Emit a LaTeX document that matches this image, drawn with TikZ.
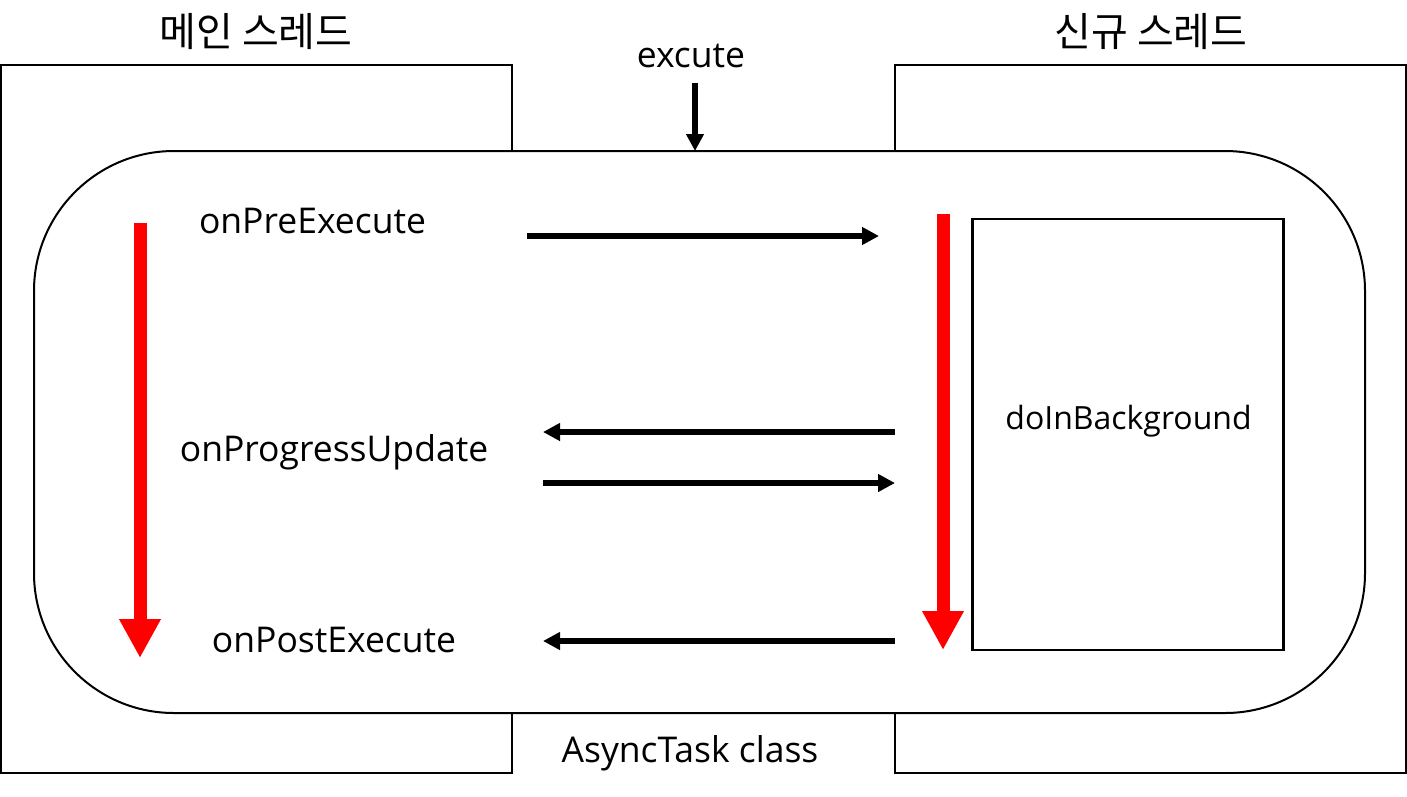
\documentclass[tikz,border=0pt]{standalone}
\usepackage{fontspec}
\setmainfont{Open Sans}
\newfontfamily\kr{Noto Sans CJK KR}
\usetikzlibrary{arrows.meta}
\tikzset{
  thread/.style={draw=black, line width=2pt},
  label/.style={inner sep=0pt, anchor=base, font=\fontsize{35.5}{42}\selectfont},
  krlabel/.style={inner sep=0pt, anchor=base, font=\kr\fontsize{40}{46}\selectfont},
  blk/.style={draw=black, line width=5.5pt, -{Triangle[length=17pt,width=17pt]}},
  redarr/.style={draw=red, line width=13pt, -{Triangle[length=39pt,width=39pt]}}
}
\begin{document}
\begin{tikzpicture}[x=1pt,y=-1pt]
\useasboundingbox (0,0) rectangle (1407,796);
% thread boxes
\draw[thread] (1,65) rectangle (512,773);
\draw[thread] (895,65) rectangle (1406,773);
% AsyncTask rounded rectangle
\node[draw=black, line width=2pt, fill=white, rounded corners=140pt,
      minimum width=1331pt, minimum height=562pt, inner sep=0pt] (task) at (699.5,432) {};
% doInBackground box
\node[draw=black, line width=2.5pt, minimum width=311pt, minimum height=431pt, inner sep=0pt]
      (bg) at (1128,434.5) {};
% labels
\node[krlabel] (main) at (256,46) {메인 스레드};
\node[krlabel] (new) at (1151,46) {신규 스레드};
\node[label] (exec) at (691,67) {excute};
\node[label] (pre) at (312.5,233) {onPreExecute};
\node[label] (prog) at (334,461) {onProgressUpdate};
\node[label] (post) at (334,652) {onPostExecute};
\node[label] (cls) at (690,762) {AsyncTask class};
\node[label, font=\fontsize{32}{38}\selectfont] (bgt) at (1128.5,429) {doInBackground};
% connector end points
\coordinate (e1) at (695,83);
\coordinate (e2) at (695,151);
\coordinate (p1) at (527,236);
\coordinate (p2) at (879,236);
\coordinate (u1) at (895,432);
\coordinate (u2) at (543,432);
\coordinate (v1) at (543,483);
\coordinate (v2) at (895,483);
\coordinate (q1) at (895,641);
\coordinate (q2) at (543,641);
\coordinate (r1) at (140,223);
\coordinate (r2) at (140,658);
\coordinate (s1) at (943,214);
\coordinate (s2) at (943,650);
% arrows
\draw[blk] (e1) -- (e2);
\draw[blk] (p1) -- (p2);
\draw[blk] (u1) -- (u2);
\draw[blk] (v1) -- (v2);
\draw[blk] (q1) -- (q2);
\draw[redarr] (r1) -- (r2);
\draw[redarr] (s1) -- (s2);
\end{tikzpicture}
\end{document}
